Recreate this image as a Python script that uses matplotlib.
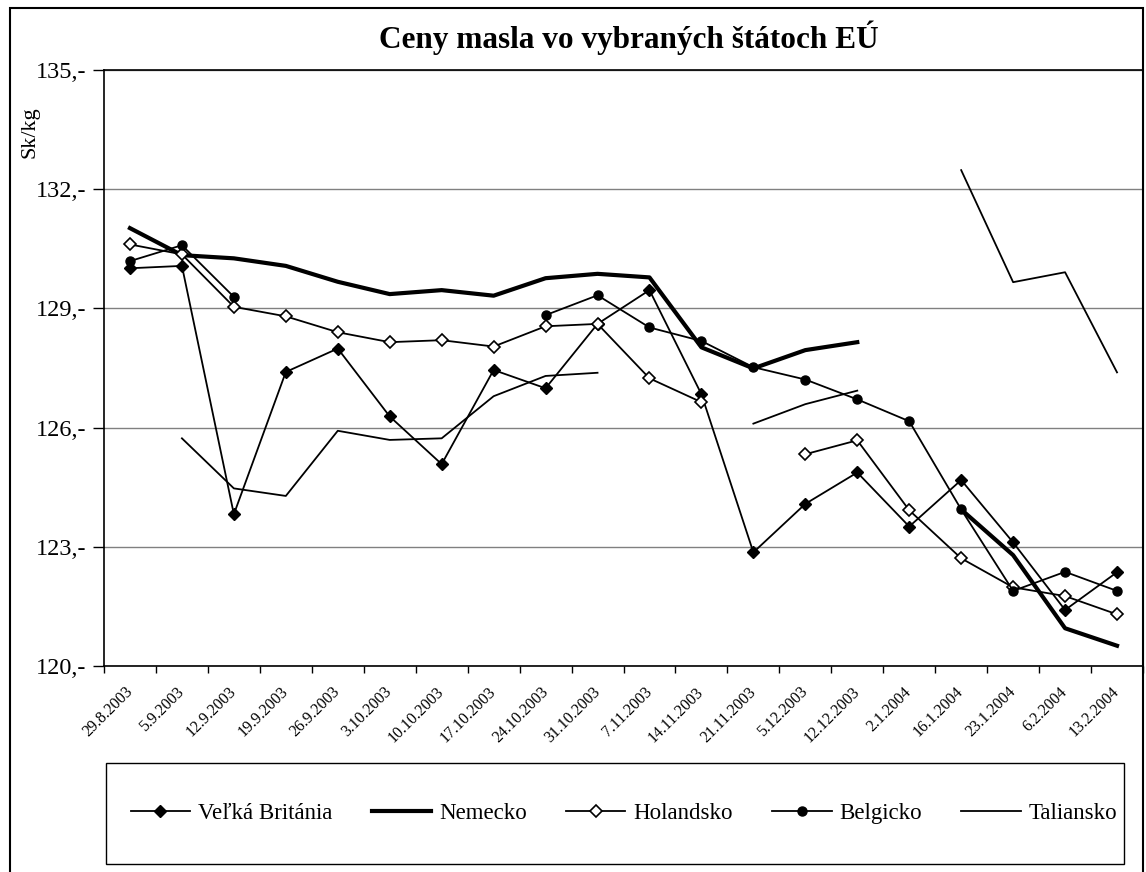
import numpy as np
import matplotlib
matplotlib.use("Agg")
import matplotlib.pyplot as plt
from matplotlib.patches import Rectangle

nan = np.nan
dates = ["29.8.2003", "5.9.2003", "12.9.2003", "19.9.2003", "26.9.2003",
         "3.10.2003", "10.10.2003", "17.10.2003", "24.10.2003", "31.10.2003",
         "7.11.2003", "14.11.2003", "21.11.2003", "5.12.2003", "12.12.2003",
         "2.1.2004", "16.1.2004", "23.1.2004", "6.2.2004", "13.2.2004"]

velka_britania = [130.01, 130.07, 123.82, 127.40, 127.99, 126.28, 125.08, 127.45, 126.99, 128.61,
                  129.46, 126.84, 122.86, 124.08, 124.87, 123.51, 124.68, 123.11, 121.41, 122.36]
nemecko = [131.02, 130.34, 130.26, 130.07, 129.67, 129.36, 129.46, 129.32, 129.76, 129.87,
           129.78, 128.02, 127.49, 127.95, 128.15, nan, 123.94, 122.79, 120.95, 120.51]
holandsko = [130.61, 130.36, 129.04, 128.80, 128.40, 128.15, 128.20, 128.04, 128.55, 128.61,
             127.24, 126.64, nan, 125.33, 125.68, 123.92, 122.71, 121.98, 121.76, 121.30]
belgicko = [130.19, 130.59, 129.29, nan, nan, nan, nan, nan, 128.83, 129.33,
            128.52, 128.18, 127.52, 127.21, 126.71, 126.16, 123.94, 121.89, 122.37, 121.89]
taliansko = [nan, 125.73, 124.47, 124.28, 125.92, 125.69, 125.73, 126.79, 127.30, 127.38,
             nan, nan, 126.10, 126.59, 126.93, nan, 132.48, 129.66, 129.91, 127.39]

y_ticks = [120, 123, 126, 129, 132, 135]
y_labels = [f"{v},-" for v in y_ticks]

plt.rcParams['font.family'] = ['Liberation Serif', 'DejaVu Serif']

W, H = 1146, 872
fig = plt.figure(figsize=(W / 100, H / 100), dpi=100)
ax = fig.add_axes([104/W, 1-666/H, (1143-104)/W, (666-70)/H])

x = np.arange(len(dates))
ax.plot(x, velka_britania, color='black', lw=1.3, marker='D', markersize=6.5,
        markerfacecolor='black', markeredgecolor='black', label='Veľká Británia', zorder=3)
ax.plot(x, nemecko, color='black', lw=3.0, label='Nemecko', zorder=3)
ax.plot(x, holandsko, color='black', lw=1.3, marker='D', markersize=6.5,
        markerfacecolor='white', markeredgecolor='black', markeredgewidth=1.2,
        label='Holandsko', zorder=3)
ax.plot(x, belgicko, color='black', lw=1.3, marker='o', markersize=6.5,
        markerfacecolor='black', markeredgecolor='black', label='Belgicko', zorder=3)
ax.plot(x, taliansko, color='black', lw=1.3, label='Taliansko', zorder=3)

ax.set_xlim(-0.5, len(dates) - 0.5)
ax.set_ylim(120, 135)
ax.set_yticks(y_ticks)
ax.set_yticklabels(y_labels, fontsize=17.5)
ax.yaxis.grid(True, color='#808080', lw=1.0)
ax.set_axisbelow(True)
ax.tick_params(axis='y', direction='out', length=8, width=1, pad=5)

ax.set_xticks(x)
ax.set_xticklabels(dates, rotation=45, ha='right', va='center', rotation_mode='anchor', fontsize=11.5)
ax.tick_params(axis='x', which='major', length=0, pad=17)
ax.set_xticks(np.arange(-0.5, len(dates), 1.0), minor=True)
ax.tick_params(axis='x', which='minor', direction='out', length=5, width=1)

for s in ['left', 'bottom', 'top']:
    ax.spines[s].set_color('black')
    ax.spines[s].set_linewidth(1.2)
ax.spines['right'].set_color('#808080')

ax.set_ylabel('Sk/kg', fontsize=16)
ax.yaxis.set_label_coords(-0.062, 0.896)

fig.text(629/W, 1-38/H, 'Ceny masla vo vybraných štátoch EÚ', ha='center', va='center',
         fontsize=22.5, fontweight='bold')

# outer chart border
fig.patches.append(Rectangle((10/W, -0.05), (1143-10)/W, 1.05 - 8/H,
                             transform=fig.transFigure, fill=False, edgecolor='black', lw=1.5))
# legend box
fig.patches.append(Rectangle((106/W, 1-864/H), (1124-106)/W, (864-763)/H,
                             transform=fig.transFigure, fill=False, edgecolor='black', lw=1.0))

leg = fig.legend(loc='center', bbox_to_anchor=(624/W, 1-813/H), ncol=5, fontsize=16.5,
                 frameon=False, handlelength=2.6, handletextpad=0.35, columnspacing=1.7,
                 borderaxespad=0, borderpad=0)

fig.savefig('out.png', dpi=100)
